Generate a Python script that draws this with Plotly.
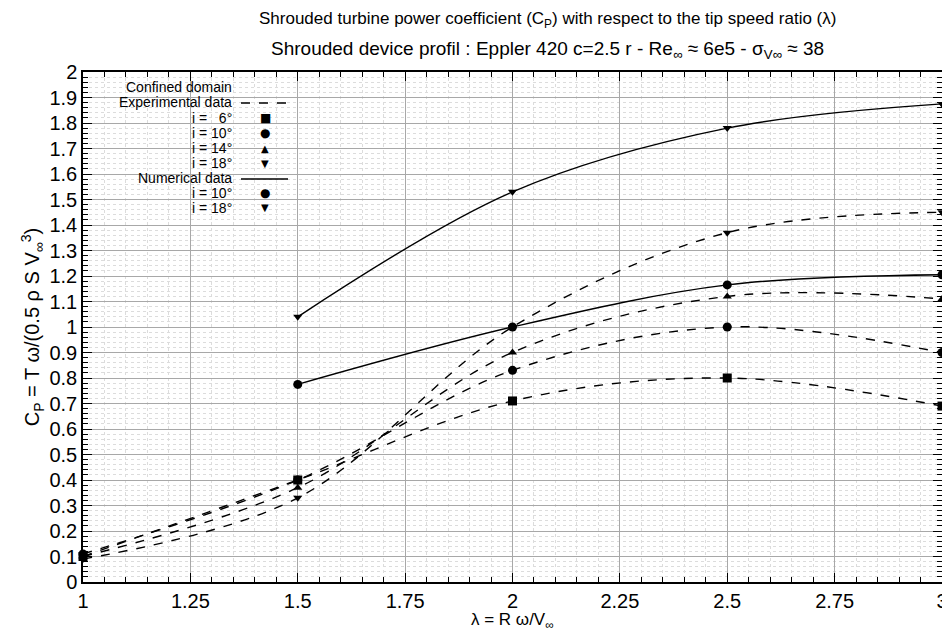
import plotly.graph_objects as go

# Data
lam = [1.0, 1.5, 2.0, 2.5, 3.0]
exp_i6 = [0.10, 0.40, 0.71, 0.80, 0.69]
exp_i10 = [0.11, 0.40, 0.83, 1.00, 0.90]
exp_i14 = [0.10, 0.37, 0.90, 1.12, 1.11]
exp_i18 = [0.09, 0.33, 1.00, 1.37, 1.45]
lam_num = [1.5, 2.0, 2.5, 3.0]
num_i10 = [0.775, 1.00, 1.165, 1.205]
num_i18 = [1.04, 1.53, 1.78, 1.875]

x_ticks = [1, 1.25, 1.5, 1.75, 2, 2.25, 2.5, 2.75, 3]
x_ticklabels = ["1", "1.25", "1.5", "1.75", "2", "2.25", "2.5", "2.75", "3"]
y_ticks = [round(0.1 * k, 1) for k in range(21)]
y_ticklabels = ["0"] + [f"{v:g}" for v in y_ticks[1:]]

FONT = "Liberation Sans, Arial, sans-serif"

fig = go.Figure()

def add(x, y, sym, dash, size):
    fig.add_trace(go.Scatter(
        x=x, y=y, mode="lines+markers",
        line=dict(color="black", width=1.4, dash=dash, shape="spline", smoothing=1.0),
        marker=dict(symbol=sym, size=size, color="black"),
        showlegend=False, cliponaxis=False))

add(lam, exp_i6, "square", "dash", 9)
add(lam, exp_i10, "circle", "dash", 9)
add(lam, exp_i14, "triangle-up", "dash", 8)
add(lam, exp_i18, "triangle-down", "dash", 8)
add(lam_num, num_i10, "circle", "solid", 9)
add(lam_num, num_i18, "triangle-down", "solid", 8)

# page body has an 8px margin; work in screenshot pixels
OFF = 8
W, H = 942, 625
PL, PR, PT, PB = 83, 942, 72, 582  # plot area in screenshot pixels
L, T = PL - OFF, PT - OFF
R = W - (PR - OFF)
B = H - (PB - OFF)
pw, ph = PR - PL, PB - PT

def px(xp):
    return (xp - PL) / pw

def py(yp):
    return 1 - (yp - PT) / ph

# legend box
fig.add_shape(type="rect", xref="paper", yref="paper",
              x0=px(91), x1=px(292), y0=py(216), y1=py(76),
              fillcolor="white", line=dict(width=0), layer="between")

legend_rows = [
    ("Confined domain", None, 87),
    ("Experimental data", "dash", 102),
    ("i =   6°", "■", 118),
    ("i = 10°", "●", 133),
    ("i = 14°", "▲", 148),
    ("i = 18°", "▼", 163),
    ("Numerical data", "solid", 178),
    ("i = 10°", "●", 193),
    ("i = 18°", "▼", 208),
]
for text, sym, yp in legend_rows:
    fig.add_annotation(xref="paper", yref="paper", x=px(234), y=py(yp),
                       text=text, showarrow=False, xanchor="right", yanchor="middle",
                       font=dict(family=FONT, size=14, color="black"))
    if sym in ("dash", "solid"):
        fig.add_shape(type="line", xref="paper", yref="paper",
                      x0=px(241), x1=px(288), y0=py(yp + 1), y1=py(yp + 1),
                      line=dict(color="black", width=1.3, dash="dash" if sym == "dash" else "solid"))
    elif sym:
        fig.add_annotation(xref="paper", yref="paper", x=px(265), y=py(yp),
                           text=sym, showarrow=False, xanchor="center", yanchor="middle",
                           font=dict(family="DejaVu Sans", size=10 if sym in "▲▼" else 12, color="black"))

fig.add_annotation(xref="paper", yref="paper", x=px(547), y=py(20),
                   text="Shrouded turbine power coefficient (C<sub>P</sub>) with respect to the tip speed ratio (λ)",
                   showarrow=False, xanchor="center", yanchor="middle",
                   font=dict(family=FONT, size=17, color="black"))
fig.add_annotation(xref="paper", yref="paper", x=px(547), y=py(50),
                   text="Shrouded device profil : Eppler 420 c=2.5 r - Re<sub>∞</sub> ≈ 6e5 - σ<sub>V∞</sub> ≈ 38",
                   showarrow=False, xanchor="center", yanchor="middle",
                   font=dict(family=FONT, size=19, color="black"))
fig.add_annotation(xref="paper", yref="paper", x=px(512), y=py(621),
                   text="λ = R ω/V<sub>∞</sub>",
                   showarrow=False, xanchor="center", yanchor="middle",
                   font=dict(family=FONT, size=17, color="black"))

axis_common = dict(showline=True, linecolor="black", linewidth=1.5, mirror="allticks",
                   ticks="inside", ticklen=9, tickcolor="black", tickwidth=1.2,
                   showgrid=True, gridcolor="#a8a8a8", gridwidth=1,
                   zeroline=False, tickfont=dict(family=FONT, size=20, color="black"),
                   automargin=False, ticklabeloverflow="allow")

fig.update_xaxes(range=[1, 3], tickvals=x_ticks, ticktext=x_ticklabels, ticklabelstandoff=0,
                 minor=dict(dtick=0.05, ticks="inside", ticklen=5, tickcolor="black",
                            showgrid=True, gridcolor="#dcdcdc", griddash="dot", gridwidth=1),
                 **axis_common)
fig.update_yaxes(range=[0, 2], tickvals=y_ticks, ticktext=y_ticklabels,
                 title=dict(text="C<sub>P</sub> = T ω/(0.5 ρ S V<sub>∞</sub><sup>3</sup>)",
                            font=dict(family=FONT, size=20, color="black"), standoff=4),
                 minor=dict(dtick=0.02, ticks="inside", ticklen=5, tickcolor="black",
                            showgrid=True, gridcolor="#dcdcdc", griddash="dot", gridwidth=1),
                 **axis_common)

fig.update_layout(width=W, height=H, margin=dict(l=L, r=R, t=T, b=B, autoexpand=False),
                  plot_bgcolor="white", paper_bgcolor="white", showlegend=False)

fig.write_html("out.html")
